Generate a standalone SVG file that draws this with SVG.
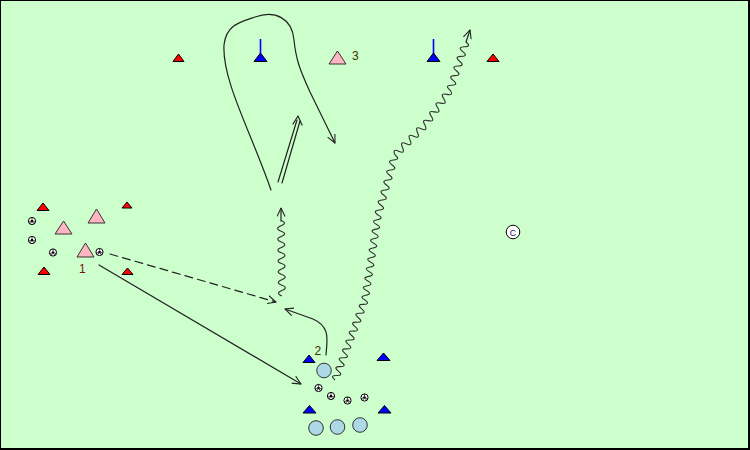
<svg xmlns="http://www.w3.org/2000/svg" width="750" height="450" viewBox="0 0 750 450">
<style>
.cone-r{fill:#ff0000;stroke:#000;stroke-width:1;stroke-linejoin:miter}
.cone-b{fill:#0000ff;stroke:#000;stroke-width:1}
.pole{stroke:#0000ff;stroke-width:1.6}
.pink{fill:#ffb6c1;stroke:#333;stroke-width:1}
.player{fill:#add8e6;stroke:#333;stroke-width:1}
.ln{fill:none;stroke:#222;stroke-width:1.2;stroke-linecap:round;stroke-linejoin:round}
.wv{fill:none;stroke:#333;stroke-width:1.1}
.lbl{font-family:"Liberation Sans",Arial,sans-serif;font-size:12px}
</style>
<defs>
<marker id="ah" viewBox="0 0 10 10" refX="9.5" refY="5" markerWidth="9" markerHeight="9" markerUnits="userSpaceOnUse" orient="auto">
<path d="M0,0.5 L9.5,5 L0,9.5" fill="none" stroke="#222" stroke-width="1.2"/>
</marker>
<g id="ball">
<circle r="3.6" fill="#fff" stroke="#000" stroke-width="1"/>
<circle r="1.3" fill="#000"/>
<path d="M0,-3.5V-1.3M-3.3,1.1L-1.2,0.4M3.3,1.1L1.2,0.4M-2,2.9L-0.7,1M2,2.9L0.7,1" stroke="#000" stroke-width="0.7"/>
</g>
</defs>
<rect x="0.5" y="0.5" width="748" height="448" fill="#ccffcc" stroke="#000" stroke-width="1"/>
<path d="M749,0V450M0,449H750" stroke="#000" stroke-width="2"/>

<g id="connectors">
<!-- dashed pass -->
<path class="ln" d="M110,254 L276,302" stroke-dasharray="8,5" marker-end="url(#ah)"/>
<!-- solid run -->
<path class="ln" d="M99,265 L301,384" marker-end="url(#ah)"/>
<!-- curved run from 2 -->
<path class="ln" d="M326,355 C327,340 331,327 313,319 L285,309" marker-end="url(#ah)"/>
<!-- long loop run -->
<path class="ln" d="M271,190 C250,130 222,80 224,45 C226,25 240,22 255,17 C275,10 292,18 294,40 C296,60 300,70 310,92 L335,143" marker-end="url(#ah)"/>
<!-- double line pass -->
<path class="ln" d="M278,182 L297,120 M282,183 L300,121"/>
<path class="ln" d="M293,124 L298,116 L302,125"/>
<!-- vertical dribble -->
<path class="wv" transform="translate(282,296) rotate(-90.8)" d="M0,0 q2.7,-7 5.4,0 t5.4,0 t5.4,0 t5.4,0 t5.4,0 t5.4,0 t5.4,0 t5.4,0 t5.4,0 t5.4,0 t5.4,0 t5.4,0 t5.4,0 t5.4,0"/>
<path class="ln" d="M281,221 L281,208" marker-end="url(#ah)"/>
<!-- long dribble -->
<path class="wv" transform="translate(335,380) rotate(-69.44)" d="M0,0 q2.375,-7 4.75,0 t4.75,0 t4.75,0 t4.75,0 t4.75,0 t4.75,0 t4.75,0 t4.75,0 t4.75,0 t4.75,0 t4.75,0 t4.75,0 t4.75,0 t4.75,0 t4.75,0 t4.75,0 t4.75,0 t4.75,0"/>
<path class="wv" transform="translate(365,300) rotate(-81.3)" d="M0,0 q2.39,-7 4.78,0 t4.78,0 t4.78,0 t4.78,0 t4.78,0 t4.78,0 t4.78,0 t4.78,0 t4.78,0 t4.78,0 t4.78,0 t4.78,0 t4.78,0 t4.78,0 t4.78,0 t4.78,0 t4.78,0 t4.78,0"/>
<path class="wv" transform="translate(378,215) rotate(-74.18)" d="M0,0 q2.6,-7 5.2,0 t5.2,0 t5.2,0 t5.2,0 t5.2,0 t5.2,0 t5.2,0 t5.2,0 t5.2,0 t5.2,0 t5.2,0 t5.2,0"/>
<path class="wv" transform="translate(395,155) rotate(-45)" d="M0,0 q2.65,-7 5.3,0 t5.3,0 t5.3,0 t5.3,0 t5.3,0 t5.3,0 t5.3,0 t5.3,0"/>
<path class="wv" transform="translate(425,125) rotate(-54.46)" d="M0,0 q2.69,-7 5.38,0 t5.38,0 t5.38,0 t5.38,0 t5.38,0 t5.38,0 t5.38,0 t5.38,0"/>
<path class="wv" transform="translate(450,90) rotate(-71.57)" d="M0,0 q2.53,-7 5.06,0 t5.06,0 t5.06,0 t5.06,0 t5.06,0 t5.06,0 t5.06,0 t5.06,0 t5.06,0 t5.06,0"/>
<path class="ln" d="M466,42 L470,30" marker-end="url(#ah)"/>
</g>

<!-- red cones -->
<g id="cone-r1"><polygon class="cone-r" points="173,61.5 184,61.5 178.5,54"/></g>
<g id="cone-r2"><polygon class="cone-r" points="487,61.5 499,61.5 493,54"/></g>
<g id="cone-r3"><polygon class="cone-r" points="37,210.5 49,210.5 43,203"/></g>
<g id="cone-r4"><polygon class="cone-r" points="122,208 132,208 127,202"/></g>
<g id="cone-r5"><polygon class="cone-r" points="38,274.5 50,274.5 44,267"/></g>
<g id="cone-r6"><polygon class="cone-r" points="122,274.5 133,274.5 127.5,268"/></g>

<!-- blue cones with poles -->
<g id="pole-1"><line class="pole" x1="260.5" y1="39" x2="260.5" y2="56"/><polygon class="cone-b" points="254,61.5 267,61.5 260.5,53"/></g>
<g id="pole-2"><line class="pole" x1="433.5" y1="39" x2="433.5" y2="56"/><polygon class="cone-b" points="427,61.5 440,61.5 433.5,53"/></g>

<!-- blue cones -->
<g id="cone-b1"><polygon class="cone-b" points="303,362.5 315,362.5 309,355"/></g>
<g id="cone-b2"><polygon class="cone-b" points="377,360.5 390,360.5 383.5,353"/></g>
<g id="cone-b3"><polygon class="cone-b" points="303,413 316,413 309.5,405.5"/></g>
<g id="cone-b4"><polygon class="cone-b" points="378,413 391,413 384.5,405.5"/></g>

<!-- pink players -->
<g id="p3"><polygon class="pink" points="329,64 346,64 337.5,51"/><text class="lbl" x="352" y="60" fill="#3a3000">3</text></g>
<g id="pink-a"><polygon class="pink" points="55,234 72,234 63.5,221"/></g>
<g id="pink-b"><polygon class="pink" points="88,223 105,223 96.5,209"/></g>
<g id="p1"><polygon class="pink" points="77,257 94,257 85.5,243"/><text class="lbl" x="79" y="273" fill="#7a1010">1</text></g>

<!-- light blue players -->
<g id="p2"><circle class="player" cx="324" cy="370.5" r="7.3"/><text class="lbl" x="314.5" y="355" fill="#3a3000">2</text></g>
<g id="b-player1"><circle class="player" cx="316" cy="428" r="7.3"/></g>
<g id="b-player2"><circle class="player" cx="337.5" cy="427" r="7.3"/></g>
<g id="b-player3"><circle class="player" cx="360" cy="425" r="7.3"/></g>

<!-- coach -->
<g id="coach"><circle cx="513" cy="232" r="6.8" fill="#fff" stroke="#000" stroke-width="1"/><text class="lbl" x="513" y="236" font-size="9px" text-anchor="middle" fill="#1a1a60" style="font-size:9px">C</text></g>

<!-- balls -->
<g id="ball-1"><use href="#ball" x="32" y="221"/></g>
<g id="ball-2"><use href="#ball" x="32" y="240"/></g>
<g id="ball-3"><use href="#ball" x="53" y="252.5"/></g>
<g id="ball-4"><use href="#ball" x="99.5" y="252"/></g>
<g id="ball-5"><use href="#ball" x="318.5" y="388"/></g>
<g id="ball-6"><use href="#ball" x="331" y="396"/></g>
<g id="ball-7"><use href="#ball" x="347.5" y="400.5"/></g>
<g id="ball-8"><use href="#ball" x="364.5" y="397.5"/></g>
</svg>
